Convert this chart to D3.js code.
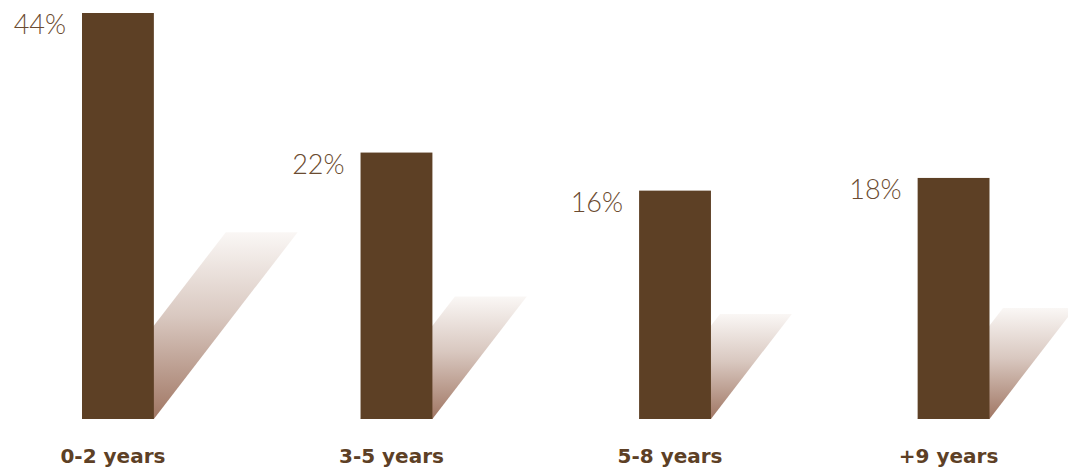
<!DOCTYPE html>
<html>
<head>
<meta charset="utf-8">
<script src="https://cdn.jsdelivr.net/npm/d3@7"></script>
<style>
  body { margin: 0; background: #fff; }
</style>
</head>
<body>
<div id="wrapper"></div>
<script>
const categories = ["0-2 years", "3-5 years", "5-8 years", "+9 years"];
const shares = [44, 22, 16, 18];
const valueLabels = ["44%", "22%", "16%", "18%"];

const width = 1068
const height = 469
const baseline = 419

const svg = d3.select("#wrapper")
    .append("svg")
    .attr("width", width)
    .attr("height", height);

// gradient for the slanted shadows
const grad = svg.append("defs").append("linearGradient")
    .attr("id", "shade")
    .attr("x1", 0).attr("y1", 1)
    .attr("x2", 0).attr("y2", 0);
grad.append("stop").attr("offset", "0%").attr("stop-color", "#a07663");
grad.append("stop").attr("offset", "55%").attr("stop-color", "#d9c8c0");
grad.append("stop").attr("offset", "100%").attr("stop-color", "#faf7f5");

const x = d3.scaleBand()
    .domain(categories)
    .range([82, 989.5])
    .paddingInner(0.742)
    .paddingOuter(0)
    .align(0);

// the picture is not drawn from zero, so the domain starts below it
const y = d3.scaleLinear()
    .domain([-20, 44])
    .range([baseline, 13]);

const data = categories.map((c, i) => ({ cat: c, value: shares[i], label: valueLabels[i] }));

const slant = 0.77;
const shadowShare = 0.46;

// shadows: bar footprint sheared up and right, drawn behind the bar
svg.append("g")
    .selectAll("path")
    .data(data)
    .enter()
    .append("path")
    .attr("d", d => {
        const h = (baseline - y(d.value)) * shadowShare;
        const x0 = x(d.cat);
        const x1 = x0 + x.bandwidth();
        const dx = h * slant;
        return `M${x0},${baseline}L${x1},${baseline}L${x1 + dx},${baseline - h}L${x0 + dx},${baseline - h}Z`;
    })
    .attr("fill", "url(#shade)");

svg.append("g")
    .selectAll("rect")
    .data(data)
    .enter()
    .append("rect")
    .attr("x", d => x(d.cat))
    .attr("y", d => y(d.value))
    .attr("width", x.bandwidth())
    .attr("height", d => baseline - y(d.value))
    .attr("fill", "#5d4025");

svg.append("g")
    .selectAll("text")
    .data(data)
    .enter()
    .append("text")
    .attr("x", d => x(d.cat) - 16)
    .attr("y", d => y(d.value) + 21)
    .attr("text-anchor", "end")
    .attr("font-family", "Lato, sans-serif")
    .attr("font-weight", 300)
    .attr("font-size", "27px")
    .attr("fill", "#6b4b30")
    .text(d => d.label);

svg.append("g")
    .selectAll("text")
    .data(data)
    .enter()
    .append("text")
    .attr("x", d => x(d.cat) + x.bandwidth() / 2 - 5)
    .attr("y", 463)
    .attr("text-anchor", "middle")
    .attr("font-family", "'DejaVu Sans', sans-serif")
    .attr("font-weight", 700)
    .attr("font-size", "20px")
    .attr("fill", "#5d4025")
    .text(d => d.cat);
</script>
</body>
</html>
